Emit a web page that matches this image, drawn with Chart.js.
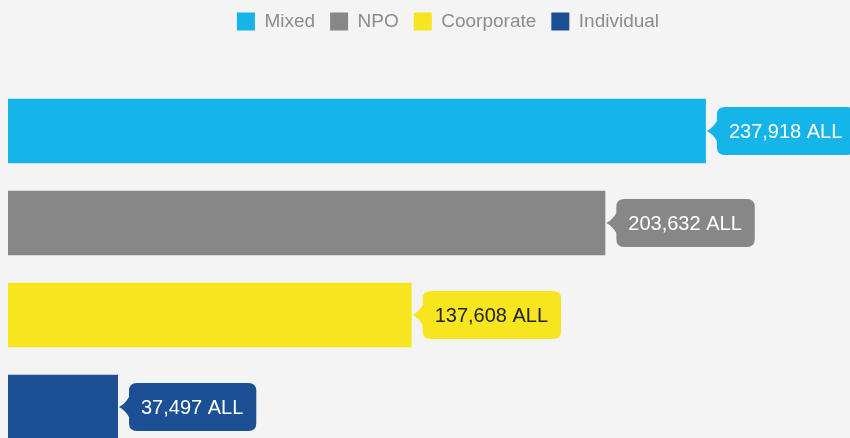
<!DOCTYPE html>
<html>
<head>
<meta charset="utf-8">
<script src="https://cdn.jsdelivr.net/npm/chart.js@4"></script>
<style>
  html, body { margin: 0; padding: 0; background: #f4f4f4; overflow: hidden; }
  #wrap { position: relative; width: 890px; height: 460px; }
</style>
</head>
<body>
<div id="wrap"><canvas id="fundChart"></canvas></div>
<script>
// ----- data -----
const categories = ['Funding'];
const seriesNames = ['Mixed', 'NPO', 'Coorporate', 'Individual'];
const seriesValues = [237918, 203632, 137608, 37497];
const seriesColors = ['#15b4e9', '#878787', '#f7e520', '#1b5094'];
const labelTextColors = ['#ffffff', '#ffffff', '#222222', '#ffffff'];
const currency = 'ALL';

// push the chart area down below the legend, and lift the legend a little
const legendMargin = {
    id: 'legendMargin',
    beforeInit(chart) {
        const fit = chart.legend.fit;
        chart.legend.fit = function () {
            fit.bind(chart.legend)();
            this.height += 39;
        };
        const draw = chart.legend.draw;
        chart.legend.draw = function () {
            this.ctx.save();
            this.ctx.translate(0, -5);
            draw.call(this);
            this.ctx.restore();
        };
    }
};

// callout box with a small arrow at the end of each bar
const valueCallouts = {
    id: 'valueCallouts',
    afterDatasetsDraw(chart) {
        const ctx = chart.ctx;
        ctx.save();
        ctx.font = '20px "Liberation Sans", Arial, sans-serif';
        ctx.textBaseline = 'middle';
        chart.data.datasets.forEach((ds, i) => {
            const bar = chart.getDatasetMeta(i).data[0];
            if (!bar) return;
            const text = ds.data[0].toLocaleString('en-US') + ' ' + currency;
            const tw = ctx.measureText(text).width;
            const cy = bar.y;
            const tip = bar.x + 1;
            const left = bar.x + 11;
            const w = tw + 25;
            const h = 48;
            const top = cy - h / 2;
            const r = 8;

            ctx.fillStyle = seriesColors[i];
            ctx.beginPath();
            ctx.moveTo(left + r, top);
            ctx.lineTo(left + w - r, top);
            ctx.quadraticCurveTo(left + w, top, left + w, top + r);
            ctx.lineTo(left + w, top + h - r);
            ctx.quadraticCurveTo(left + w, top + h, left + w - r, top + h);
            ctx.lineTo(left + r, top + h);
            ctx.quadraticCurveTo(left, top + h, left, top + h - r);
            ctx.lineTo(left, cy + 10);
            ctx.quadraticCurveTo(left - 4, cy + 3, tip, cy);
            ctx.quadraticCurveTo(left - 4, cy - 3, left, cy - 10);
            ctx.lineTo(left, top + r);
            ctx.quadraticCurveTo(left, top, left + r, top);
            ctx.closePath();
            ctx.fill();

            ctx.fillStyle = labelTextColors[i];
            ctx.textAlign = 'left';
            ctx.fillText(text, left + 12, cy + 1);
        });
        ctx.restore();
    }
};

const ctx = document.getElementById('fundChart').getContext('2d');
new Chart(ctx, {
    type: 'bar',
    data: {
        labels: categories,
        datasets: seriesNames.map((name, i) => ({
            label: name,
            data: [seriesValues[i]],
            backgroundColor: seriesColors[i],
            borderWidth: 0,
            categoryPercentage: 1,
            barPercentage: 0.7
        }))
    },
    options: {
        indexAxis: 'y',
        responsive: true,
        maintainAspectRatio: false,
        animation: false,
        layout: { padding: { top: 2, left: 8, right: 2, bottom: 7 } },
        scales: {
            x: { display: false, min: 0, max: 300000 },
            y: { display: false }
        },
        plugins: {
            tooltip: { enabled: false },
            legend: {
                display: true,
                position: 'top',
                labels: {
                    boxWidth: 18,
                    boxHeight: 18,
                    padding: 15,
                    color: '#8c8c8c',
                    font: { size: 19, family: '"Liberation Sans", Arial, sans-serif' }
                }
            }
        }
    },
    plugins: [legendMargin, valueCallouts]
});
</script>
</body>
</html>
